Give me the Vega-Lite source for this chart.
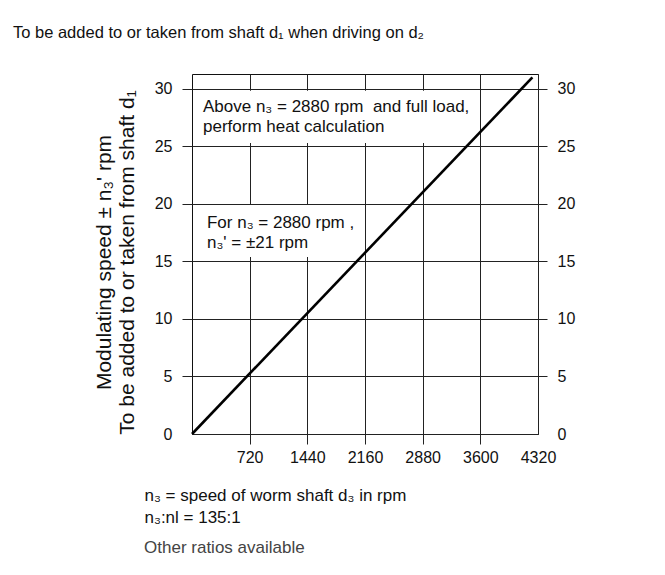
{
  "$schema": "https://vega.github.io/schema/vega-lite/v6.json",
  "width": 346,
  "height": 360,
  "autosize": "none",
  "padding": {"left": 192, "top": 74, "right": 127, "bottom": 141},
  "background": "white",
  "title": {
    "text": "To be added to or taken from shaft d₁ when driving on d₂",
    "anchor": "start",
    "frame": "group",
    "dx": -179,
    "offset": 18,
    "baseline": "alphabetic",
    "font": "Liberation Sans",
    "fontSize": 16.5,
    "fontWeight": "normal",
    "color": "#111"
  },
  "config": {
    "font": "Liberation Sans",
    "view": {"stroke": "#111", "strokeWidth": 1},
    "axis": {
      "domain": false,
      "labelFont": "Liberation Sans",
      "labelFontSize": 16,
      "labelColor": "#111",
      "tickColor": "#222",
      "tickWidth": 1,
      "gridColor": "#222",
      "gridWidth": 1,
      "gridOpacity": 1,
      "titleFont": "Liberation Sans",
      "titleFontWeight": "normal",
      "titleColor": "#111"
    }
  },
  "resolve": {"axis": {"x": "independent", "y": "independent"}},
  "layer": [
    {
      "data": {"values": [{}]},
      "mark": {"type": "rect", "fill": "white"},
      "encoding": {
        "x": {"datum": 30, "type": "quantitative", "scale": {"domain": [0, 4320], "nice": false}, "axis": null},
        "x2": {"datum": 3500},
        "y": {
          "datum": 25.3,
          "type": "quantitative",
          "scale": {"domain": [0, 31.3], "nice": false},
          "axis": {
            "orient": "right",
            "title": null,
            "values": [0, 5, 10, 15, 20, 25, 30],
            "grid": false,
            "tickSize": 9,
            "labelPadding": 10,
            "tickOpacity": {"condition": {"test": "datum.value == 0", "value": 0}, "value": 1}
          }
        },
        "y2": {"datum": 29.85}
      }
    },
    {
      "data": {"values": [{}]},
      "mark": {"type": "rect", "fill": "white"},
      "encoding": {
        "x": {"datum": 30, "type": "quantitative", "scale": {"domain": [0, 4320], "nice": false}, "axis": null},
        "x2": {"datum": 2050},
        "y": {"datum": 15.4, "type": "quantitative", "scale": {"domain": [0, 31.3], "nice": false}, "axis": null},
        "y2": {"datum": 19.9}
      }
    },
    {
      "data": {"values": [{"n3": 0, "mod": 0}, {"n3": 4250, "mod": 31}]},
      "mark": {"type": "line", "color": "#000", "strokeWidth": 2.6},
      "encoding": {
        "x": {
          "field": "n3",
          "type": "quantitative",
          "scale": {"domain": [0, 4320], "nice": false},
          "axis": {
            "orient": "bottom",
            "values": [720, 1440, 2160, 2880, 3600, 4320],
            "format": "d",
            "grid": true,
            "tickSize": 10,
            "labelPadding": 5,
            "labelFlush": false,
            "tickOpacity": {"condition": {"test": "datum.value >= 4320", "value": 0}, "value": 1},
            "title": ["n₃ = speed of worm shaft d₃ in rpm", "n₃:nl = 135:1"],
            "titleFontSize": 17,
            "titleAlign": "left",
            "titleBaseline": "alphabetic",
            "titleLineHeight": 22,
            "titleX": -48,
            "titleY": 66
          }
        },
        "y": {
          "field": "mod",
          "type": "quantitative",
          "scale": {"domain": [0, 31.3], "nice": false},
          "axis": {
            "orient": "left",
            "values": [0, 5, 10, 15, 20, 25, 30],
            "grid": true,
            "tickSize": 10,
            "labelPadding": 10,
            "tickOpacity": {"condition": {"test": "datum.value == 0", "value": 0}, "value": 1},
            "title": ["Modulating speed ± n₃' rpm", "To be added to or taken from shaft d₁"],
            "titleFontSize": 21,
            "titleLineHeight": 23,
            "titleAngle": -90,
            "titleAlign": "center",
            "titleBaseline": "alphabetic",
            "titleX": -82,
            "titleY": 188
          }
        }
      }
    },
    {
      "data": {"values": [{}]},
      "mark": {"type": "text", "align": "left", "baseline": "alphabetic", "fontSize": 17, "lineHeight": 20, "color": "#111",
        "text": ["Above n₃ = 2880 rpm\u00a0 and full load,", "perform heat calculation"]},
      "encoding": {
        "x": {"datum": 137, "type": "quantitative", "scale": {"domain": [0, 4320], "nice": false}, "axis": null},
        "y": {"datum": 28.0, "type": "quantitative", "scale": {"domain": [0, 31.3], "nice": false}, "axis": null}
      }
    },
    {
      "data": {"values": [{}]},
      "mark": {"type": "text", "align": "left", "baseline": "alphabetic", "fontSize": 17, "lineHeight": 20, "color": "#111",
        "text": ["For n₃ = 2880 rpm ,", "n₃' = ±21 rpm"]},
      "encoding": {
        "x": {"datum": 187, "type": "quantitative", "scale": {"domain": [0, 4320], "nice": false}, "axis": null},
        "y": {"datum": 17.9, "type": "quantitative", "scale": {"domain": [0, 31.3], "nice": false}, "axis": null}
      }
    },
    {
      "data": {"values": [{}]},
      "mark": {"type": "text", "align": "left", "baseline": "alphabetic", "fontSize": 17, "color": "#444",
        "text": "Other ratios available"},
      "encoding": {
        "x": {"datum": -599, "type": "quantitative", "scale": {"domain": [0, 4320], "nice": false}, "axis": null},
        "y": {"datum": -10.35, "type": "quantitative", "scale": {"domain": [0, 31.3], "nice": false}, "axis": null}
      }
    }
  ]
}
